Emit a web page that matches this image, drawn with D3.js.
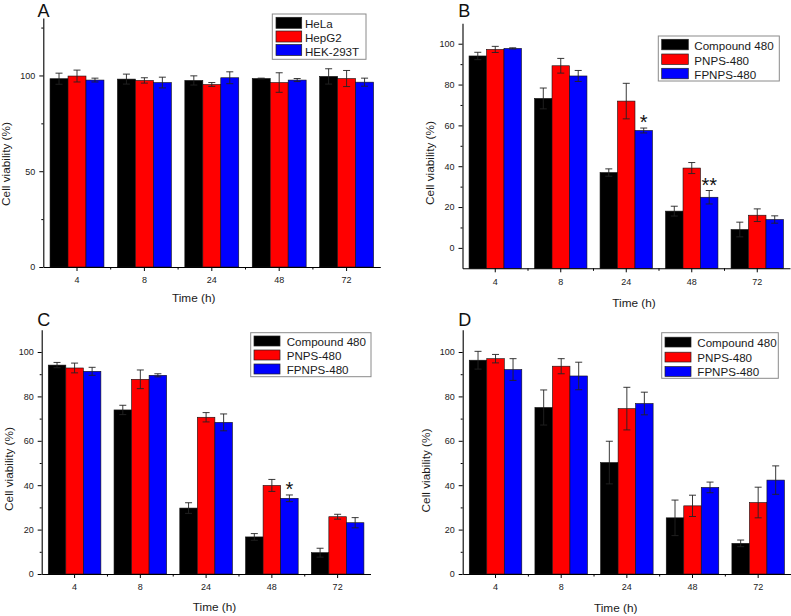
<!DOCTYPE html>
<html><head><meta charset="utf-8">
<script src="https://cdn.jsdelivr.net/npm/d3@7"></script>
<style>
body{margin:0;background:#fff}
svg{display:block}
text{font-family:"Liberation Sans",Arial,Helvetica,sans-serif}
</style>
</head><body>
<svg id="chart" width="791" height="616"></svg>
<script>
// ---------- data ----------
const timeLabels = ["4", "8", "24", "48", "72"];
const cellLines = ["HeLa", "HepG2", "HEK-293T"];
const formulations = ["Compound 480", "PNPS-480", "FPNPS-480"];
const seriesColors = ["#000000", "#ff0000", "#0000ff"];

// Panel A (cell lines)
const valuesA = [
  [98.3, 98.1, 97.4, 98.4, 99.5],
  [99.7, 97.4, 95.3, 96.3, 98.4],
  [97.6, 96.3, 98.8, 97.6, 96.5]
];
const errorsA = [
  [2.9, 2.6, 2.4, 0.2, 4.0],
  [3.1, 1.4, 1.0, 5.1, 4.2],
  [1.0, 2.8, 3.1, 0.8, 2.1]
];
// Panel B
const valuesB = [
  [94.0, 73.2, 36.9, 18.0, 9.0],
  [97.2, 89.2, 71.9, 39.1, 16.0],
  [97.7, 84.2, 57.5, 24.8, 13.9]
];
const errorsB = [
  [1.8, 5.1, 1.8, 2.4, 3.6],
  [1.5, 3.6, 8.7, 2.7, 3.1],
  [0.3, 2.7, 1.2, 3.3, 1.8]
];
// Panel C
const valuesC = [
  [94.1, 73.9, 29.7, 16.7, 9.6],
  [92.8, 87.7, 70.6, 39.9, 25.8],
  [91.3, 89.5, 68.3, 34.1, 23.1]
];
const errorsC = [
  [1.2, 2.1, 2.4, 1.5, 2.0],
  [2.2, 4.2, 2.1, 2.7, 1.1],
  [1.8, 0.7, 3.8, 1.5, 2.3]
];
// Panel D
const valuesD = [
  [96.3, 75.0, 50.2, 25.3, 13.8],
  [97.0, 93.6, 74.5, 30.7, 32.2],
  [92.1, 89.2, 76.8, 39.0, 42.3]
];
const errorsD = [
  [4.0, 7.9, 9.6, 8.0, 1.5],
  [1.9, 3.4, 9.6, 4.8, 6.9],
  [4.9, 6.2, 5.1, 2.4, 6.4]
];

const majorTicksA = [0, 50, 100];
const minorTicksA = [25, 75, 125];
const majorTicksBCD = [0, 20, 40, 60, 80, 100];
const minorTicksBCD = [10, 30, 50, 70, 90];

const starsB = [{time: "24", series: 2, label: "*"}, {time: "48", series: 2, label: "**"}];
const starsC = [{time: "48", series: 2, label: "*"}];

const yTitle = "Cell viability (%)";
const xTitle = "Time (h)";

// ---------- layout ----------
const panels = [
  {letter: "A", series: cellLines, values: valuesA, errors: errorsA, stars: [],
   domain: [0, 130], major: majorTicksA, minor: minorTicksA,
   x0: 43.3, x1: 380.3, yTop: 18, yBot: 267,
   letterPos: [37.5, 17], yLabPos: [6, 164], xLabPos: [193.7, 302],
   legend: {x: 272.3, y: 14, w: 93.7, h: 45.3, sx: 276, sw: 25.7, sh: 11, rows: [17.3, 31, 44.5], tx: 305}},
  {letter: "B", series: formulations, values: valuesB, errors: errorsB, stars: starsB,
   domain: [-10, 110], major: majorTicksBCD, minor: minorTicksBCD,
   x0: 462.5, x1: 790, yTop: 23.3, yBot: 268.3,
   letterPos: [458.3, 17], yLabPos: [429.5, 163], xLabPos: [634, 306.8],
   legend: {x: 658.3, y: 36, w: 121, h: 45, sx: 661.7, sw: 26.6, sh: 10.5, rows: [39.3, 54, 68.3], tx: 694.3}},
  {letter: "C", series: formulations, values: valuesC, errors: errorsC, stars: starsC,
   domain: [0, 110], major: majorTicksBCD, minor: minorTicksBCD,
   x0: 41.7, x1: 370.5, yTop: 329.8, yBot: 574,
   letterPos: [37.3, 325.5], yLabPos: [9, 469], xLabPos: [214.5, 611],
   legend: {x: 250.7, y: 332.7, w: 120.3, h: 44, sx: 254, sw: 26, sh: 10, rows: [336, 350, 364], tx: 286.7}},
  {letter: "D", series: formulations, values: valuesD, errors: errorsD, stars: [],
   domain: [0, 110], major: majorTicksBCD, minor: minorTicksBCD,
   x0: 462.7, x1: 791, yTop: 329.8, yBot: 574,
   letterPos: [458.3, 326], yLabPos: [426, 470.5], xLabPos: [615.7, 611.7],
   legend: {x: 661.7, y: 332.7, w: 116.6, h: 45.6, sx: 665, sw: 26, sh: 9.8, rows: [337.2, 352.2, 366.6], tx: 697.3}}
];

const svg = d3.select("#chart");
const textColor = "#1a1a1a";

panels.forEach(p => {
  const g = svg.append("g");
  const x = d3.scaleBand().domain(timeLabels).range([p.x0, p.x1]).paddingInner(0.2).paddingOuter(0.1);
  const xs = d3.scaleBand().domain(d3.range(p.series.length)).range([0, x.bandwidth()]);
  const y = d3.scaleLinear().domain(p.domain).range([p.yBot, p.yTop]);
  const base = p.domain[0];

  // bars
  p.series.forEach((s, si) => {
    g.append("g").selectAll("rect").data(timeLabels).join("rect")
      .attr("x", t => x(t) + xs(si))
      .attr("width", xs.bandwidth())
      .attr("y", (t, ti) => y(p.values[si][ti]))
      .attr("height", (t, ti) => y(base) - y(p.values[si][ti]))
      .attr("fill", seriesColors[si])
      .attr("stroke", "#111").attr("stroke-width", 0.6);
  });
  // error bars
  p.series.forEach((s, si) => {
    const eg = g.append("g").attr("stroke", "#222").attr("stroke-width", 0.9);
    timeLabels.forEach((t, ti) => {
      const cx = x(t) + xs(si) + xs.bandwidth() / 2;
      const v = p.values[si][ti], e = p.errors[si][ti];
      eg.append("line").attr("x1", cx).attr("x2", cx).attr("y1", y(v - e)).attr("y2", y(v + e));
      eg.append("line").attr("x1", cx - 3.5).attr("x2", cx + 3.5).attr("y1", y(v + e)).attr("y2", y(v + e));
      eg.append("line").attr("x1", cx - 3.5).attr("x2", cx + 3.5).attr("y1", y(v - e)).attr("y2", y(v - e));
    });
  });
  // significance stars
  p.stars.forEach(st => {
    const ti = timeLabels.indexOf(st.time);
    const v = p.values[st.series][ti], e = p.errors[st.series][ti];
    g.append("text")
      .attr("x", x(st.time) + xs(st.series) + xs.bandwidth() / 2)
      .attr("y", y(v + e) + 1)
      .attr("text-anchor", "middle").attr("font-size", 20).attr("fill", "#111")
      .text(st.label);
  });

  // y axis
  const ya = g.append("g").attr("transform", `translate(${p.x0},0)`)
    .call(d3.axisLeft(y).tickValues(p.major).tickSize(4).tickPadding(4).tickSizeOuter(0));
  const ym = g.append("g").attr("transform", `translate(${p.x0},0)`)
    .call(d3.axisLeft(y).tickValues(p.minor).tickSize(2).tickFormat(""));
  ym.select(".domain").remove();
  // x axis
  const xa = g.append("g").attr("transform", `translate(0,${p.yBot})`)
    .call(d3.axisBottom(x).tickSize(4).tickPadding(6).tickSizeOuter(0));
  const xb = g.append("g");
  d3.range(1, timeLabels.length).forEach(i => {
    const bx = x.range()[0] + i * x.step();
    xb.append("line").attr("x1", bx).attr("x2", bx).attr("y1", p.yBot).attr("y2", p.yBot + 2.5)
      .attr("stroke", "#000").attr("stroke-width", 1);
  });
  [ya, ym, xa].forEach(a => {
    a.selectAll(".domain").attr("stroke", "#000").attr("stroke-width", 1.1);
    a.selectAll(".tick line").attr("stroke", "#000");
    a.selectAll("text").attr("font-size", 9).attr("fill", textColor)
      .attr("font-family", "'Liberation Sans',Arial,sans-serif");
  });

  // axis titles
  g.append("text")
    .attr("transform", `translate(${p.yLabPos[0]},${p.yLabPos[1]}) rotate(-90)`)
    .attr("text-anchor", "middle").attr("dy", "0.35em")
    .attr("font-size", 11.8).attr("fill", textColor).text(yTitle);
  g.append("text").attr("x", p.xLabPos[0]).attr("y", p.xLabPos[1])
    .attr("text-anchor", "middle").attr("font-size", 11.8).attr("fill", textColor).text(xTitle);

  // panel letter
  g.append("text").attr("x", p.letterPos[0]).attr("y", p.letterPos[1])
    .attr("font-size", 18).attr("fill", "#111").text(p.letter);

  // legend
  const L = p.legend;
  const lg = g.append("g");
  lg.append("rect").attr("x", L.x).attr("y", L.y).attr("width", L.w).attr("height", L.h)
    .attr("fill", "#fff").attr("stroke", "#8a8a8a").attr("stroke-width", 1);
  p.series.forEach((s, si) => {
    lg.append("rect").attr("x", L.sx).attr("y", L.rows[si]).attr("width", L.sw).attr("height", L.sh)
      .attr("fill", seriesColors[si]).attr("stroke", "#222").attr("stroke-width", 0.7);
    lg.append("text").attr("x", L.tx).attr("y", L.rows[si] + L.sh)
      .attr("font-size", 11.6).attr("fill", textColor).text(s);
  });
});
</script>
</body></html>
